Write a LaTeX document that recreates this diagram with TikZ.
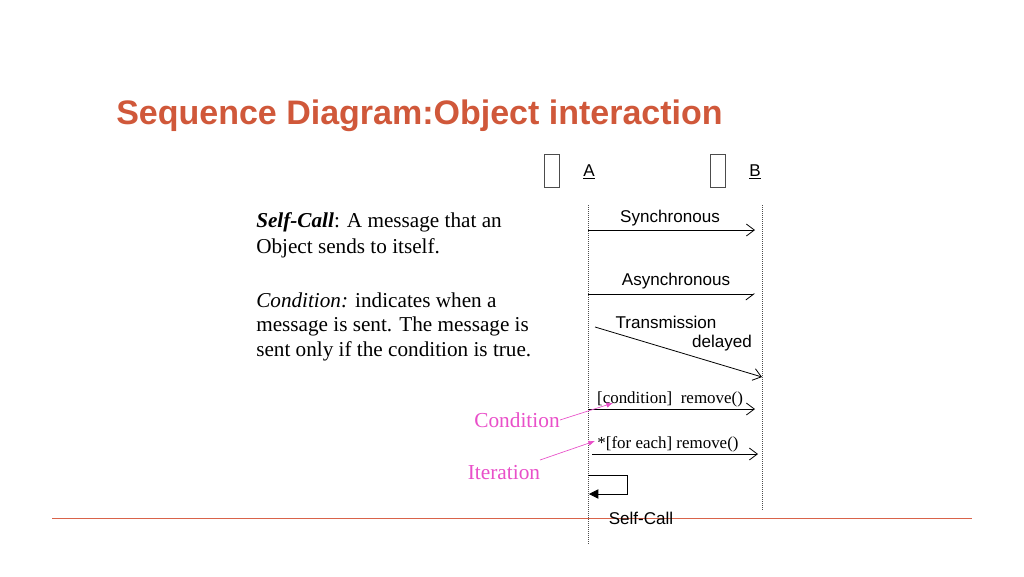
\documentclass[tikz,border=0pt]{standalone}
\usepackage{fontspec}
\setmainfont{Liberation Serif}
\setsansfont{Liberation Sans}
\usetikzlibrary{arrows.meta}
\definecolor{titlec}{HTML}{D0583A}
\definecolor{pinkc}{HTML}{E94FC9}
\definecolor{redline}{HTML}{D9634A}
\tikzset{
  lbl/.style={font=\sffamily\fontsize{12.8}{15}\selectfont, inner sep=0pt},
  msg/.style={font=\rmfamily\fontsize{12.7}{15}\selectfont, inner sep=0pt},
  body/.style={font=\rmfamily\fontsize{15.9}{19}\selectfont, inner sep=0pt, anchor=west},
  life/.style={densely dotted, black!70, line width=0.5pt},
  arr/.style={-{Straight Barb[length=6pt,width=9pt]}, line width=0.6pt},
  half/.style={-{Straight Barb[length=6pt,width=9pt,right]}, line width=0.6pt},
  pinkt/.style={font=\rmfamily\fontsize{16}{19}\selectfont, text=pinkc, inner sep=0pt},
  parr/.style={pinkc, line width=0.5pt, -{Latex[length=5pt,width=4pt]}},
  objbox/.style={draw=black!70, line width=0.6pt, minimum width=11pt, minimum height=25pt, inner sep=0pt}
}
\begin{document}
\begin{tikzpicture}[x=0.75pt,y=-0.75pt]
\useasboundingbox[fill=white] (0,0) rectangle (1024,576);
\node[font=\sffamily\bfseries\fontsize{25.5}{28}\selectfont, text=titlec, anchor=west, inner sep=0pt] (title) at (116,116) {Sequence Diagram:Object interaction};
% objects
\node[objbox] (boxA) at (552,171) {};
\node[objbox] (boxB) at (718,171) {};
\node[lbl] (labA) at (589,172) {\underline{A}};
\node[lbl] (labB) at (755,172) {\underline{B}};
\coordinate (a0) at (588,205); \coordinate (a1) at (588,545);
\coordinate (b0) at (762,205); \coordinate (b1) at (762,510);
\draw[life] (a0) -- (a1);
\draw[life] (b0) -- (b1);
% left text
\node[body] (t1) at (256,222) {\textbf{\textit{Self-Call}}: A message that an};
\node[body] (t2) at (256,248) {Object sends to itself.};
\node[body] (t3) at (256,300) {\textit{Condition:} indicates when a};
\node[body] (t4) at (256,326) {message is sent. The message is};
\node[body] (t5) at (256,351) {sent only if the condition is true.};
% messages
\node[lbl] (sync) at (670,218) {Synchronous};
\coordinate (s0) at (588,230); \coordinate (s1) at (755,230);
\draw[arr] (s0) -- (s1);
\node[lbl] (async) at (676,281) {Asynchronous};
\coordinate (as0) at (588,294); \coordinate (as1) at (755,294);
\draw[half] (as0) -- (as1);
\node[lbl] (trans) at (666,322) {Transmission};
\node[lbl] (delay) at (722,343) {delayed};
\coordinate (d0) at (595,327); \coordinate (d1) at (762,377);
\draw[arr] (d0) -- (d1);
\node[msg] (cond) at (670,399) {[condition]\ \ remove()};
\coordinate (c0) at (588,409); \coordinate (c1) at (755,409);
\draw[arr] (c0) -- (c1);
\node[msg] (iter) at (668,444) {*[for each] remove()};
\coordinate (i0) at (592,454); \coordinate (i1) at (758,454);
\draw[arr] (i0) -- (i1);
% self call
\coordinate (sc0) at (588,475); \coordinate (sc1) at (627,475);
\coordinate (sc2) at (627,494); \coordinate (sc3) at (589,494);
\draw[line width=0.6pt, -{Triangle[length=7pt,width=7pt]}] (sc0) -- (sc1) -- (sc2) -- (sc3);
% red line
\coordinate (r0) at (52,518); \coordinate (r1) at (972,518);
\draw[redline, line width=0.6pt] (r0) -- (r1);
\node[lbl] (selfc) at (641,518) {Self-Call};
% pink annotations
\node[pinkt] (pc) at (517,420) {Condition};
\node[pinkt] (pi) at (504,473) {Iteration};
\coordinate (pct) at (613,403);
\coordinate (pit) at (595,441);
\draw[parr] (pc.east) -- (pct);
\draw[parr] (540,460) -- (pit);
\end{tikzpicture}
\end{document}
